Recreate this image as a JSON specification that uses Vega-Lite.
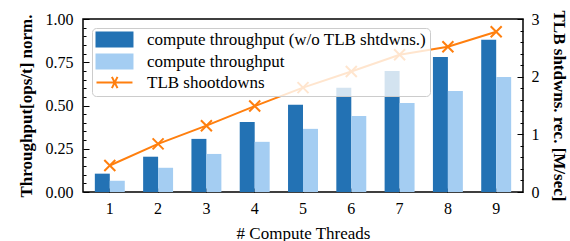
{
  "$schema": "https://vega.github.io/schema/vega-lite/v6.json",
  "autosize": {"type": "none"},
  "width": 440,
  "height": 173,
  "padding": {"left": 83, "top": 19, "right": 47, "bottom": 49},
  "config": {
    "view": {"stroke": "black", "strokeWidth": 1.5},
    "font": "Liberation Serif",
    "axis": {
      "domain": false,
      "grid": false,
      "labelFont": "Liberation Serif",
      "labelFontSize": 16,
      "labelColor": "black",
      "titleFont": "Liberation Serif",
      "titleFontSize": 17,
      "titleFontWeight": "normal",
      "titleColor": "black",
      "tickColor": "black",
      "tickWidth": 1,
      "labelOverlap": false
    }
  },
  "datasets": {
    "bars": [
      {"threads": 1, "series": "compute throughput (w/o TLB shtdwns.)", "value": 0.106},
      {"threads": 2, "series": "compute throughput (w/o TLB shtdwns.)", "value": 0.204},
      {"threads": 3, "series": "compute throughput (w/o TLB shtdwns.)", "value": 0.307},
      {"threads": 4, "series": "compute throughput (w/o TLB shtdwns.)", "value": 0.405},
      {"threads": 5, "series": "compute throughput (w/o TLB shtdwns.)", "value": 0.504},
      {"threads": 6, "series": "compute throughput (w/o TLB shtdwns.)", "value": 0.602},
      {"threads": 7, "series": "compute throughput (w/o TLB shtdwns.)", "value": 0.70},
      {"threads": 8, "series": "compute throughput (w/o TLB shtdwns.)", "value": 0.78},
      {"threads": 9, "series": "compute throughput (w/o TLB shtdwns.)", "value": 0.88},
      {"threads": 1, "series": "compute throughput", "value": 0.065},
      {"threads": 2, "series": "compute throughput", "value": 0.14},
      {"threads": 3, "series": "compute throughput", "value": 0.22},
      {"threads": 4, "series": "compute throughput", "value": 0.29},
      {"threads": 5, "series": "compute throughput", "value": 0.365},
      {"threads": 6, "series": "compute throughput", "value": 0.44},
      {"threads": 7, "series": "compute throughput", "value": 0.515},
      {"threads": 8, "series": "compute throughput", "value": 0.584},
      {"threads": 9, "series": "compute throughput", "value": 0.665}
    ],
    "tlb": [
      {"threads": 1, "series": "TLB shootdowns", "rate": 0.46},
      {"threads": 2, "series": "TLB shootdowns", "rate": 0.835},
      {"threads": 3, "series": "TLB shootdowns", "rate": 1.15},
      {"threads": 4, "series": "TLB shootdowns", "rate": 1.49},
      {"threads": 5, "series": "TLB shootdowns", "rate": 1.81},
      {"threads": 6, "series": "TLB shootdowns", "rate": 2.09},
      {"threads": 7, "series": "TLB shootdowns", "rate": 2.38},
      {"threads": 8, "series": "TLB shootdowns", "rate": 2.52},
      {"threads": 9, "series": "TLB shootdowns", "rate": 2.78}
    ]
  },
  "layer": [
    {
      "data": {"name": "bars"},
      "mark": {"type": "bar"},
      "encoding": {
        "x": {
          "field": "threads",
          "type": "ordinal",
          "scale": {"paddingInner": 0.38, "paddingOuter": 0.245},
          "axis": {
            "title": "# Compute Threads",
            "labelAngle": 0,
            "tickSize": -4,
            "labelPadding": 12,
            "titlePadding": 9
          }
        },
        "xOffset": {
          "field": "series",
          "type": "nominal",
          "sort": ["compute throughput (w/o TLB shtdwns.)", "compute throughput"],
          "scale": {"paddingInner": 0, "paddingOuter": 0}
        },
        "y": {
          "field": "value",
          "type": "quantitative",
          "scale": {"domain": [0, 1], "nice": false},
          "axis": {
            "orient": "left",
            "title": "Throughput[ops/t] norm.",
            "titleFontWeight": "bold",
            "values": [0, 0.05, 0.1, 0.15, 0.2, 0.25, 0.3, 0.35, 0.4, 0.45, 0.5, 0.55, 0.6, 0.65, 0.7, 0.75, 0.8, 0.85, 0.9, 0.95, 1],
            "labelExpr": "abs(datum.value*4-round(datum.value*4))<1e-6 ? format(datum.value, '.2f') : ''",
            "tickSize": {"condition": {"test": "abs(datum.value*4-round(datum.value*4))<1e-6", "value": -6}, "value": -3},
            "labelPadding": 16,
            "titlePadding": 10
          }
        },
        "color": {
          "field": "series",
          "type": "nominal",
          "scale": {
            "domain": ["compute throughput (w/o TLB shtdwns.)", "compute throughput", "TLB shootdowns"],
            "range": ["#2372b4", "#a4cdf2", "#ff7f0e"]
          },
          "legend": {
            "title": null,
            "orient": "top-left",
            "offset": 9,
            "zindex": 5,
            "fillColor": "rgba(255,255,255,0.8)",
            "strokeColor": "#cccccc",
            "cornerRadius": 4,
            "padding": 3,
            "labelFont": "Liberation Serif",
            "labelFontSize": 17,
            "labelColor": "black",
            "labelLimit": 500,
            "labelOffset": 35,
            "symbolSize": 196,
            "rowPadding": -1,
            "encode": {
              "symbols": {
                "update": {
                  "shape": {"signal": "datum.value === 'TLB shootdowns' ? 'M-1,0H4.14M1.2,-0.8L2.0,0.8M1.2,0.8L2.0,-0.8' : 'M-1,-1H4.14V1H-1Z'"},
                  "fill": {"signal": "datum.value === 'TLB shootdowns' ? 'transparent' : scale('color', datum.value)"},
                  "stroke": {"signal": "datum.value === 'TLB shootdowns' ? '#ff7f0e' : 'transparent'"},
                  "strokeWidth": {"value": 2},
                  "opacity": {"value": 1}
                }
              }
            }
          }
        }
      }
    },
    {
      "data": {"name": "tlb"},
      "layer": [
        {
          "mark": {"type": "line", "strokeWidth": 2},
          "encoding": {
            "x": {"field": "threads", "type": "ordinal"},
            "y": {"field": "rate", "type": "quantitative"},
            "color": {"field": "series", "type": "nominal"}
          }
        },
        {
          "mark": {"type": "point", "shape": "M-1,-1L1,1M-1,1L1,-1", "size": 121, "strokeWidth": 2, "filled": false, "opacity": 1},
          "encoding": {
            "x": {"field": "threads", "type": "ordinal"},
            "y": {"field": "rate", "type": "quantitative"},
            "color": {"field": "series", "type": "nominal"}
          }
        }
      ],
      "encoding": {
        "y": {
          "field": "rate",
          "type": "quantitative",
          "scale": {"domain": [0, 3], "nice": false},
          "axis": {
            "orient": "right",
            "title": "TLB shtdwns. rec. [M/sec]",
            "titleFontWeight": "bold",
            "values": [0, 0.2, 0.4, 0.6, 0.8, 1, 1.2, 1.4, 1.6, 1.8, 2, 2.2, 2.4, 2.6, 2.8, 3],
            "labelExpr": "abs(datum.value-round(datum.value))<1e-6 ? format(datum.value, 'd') : ''",
            "tickSize": {"condition": {"test": "abs(datum.value-round(datum.value))<1e-6", "value": -6}, "value": -3},
            "labelPadding": 14,
            "titlePadding": 10
          }
        }
      }
    }
  ],
  "resolve": {"scale": {"y": "independent"}}
}
